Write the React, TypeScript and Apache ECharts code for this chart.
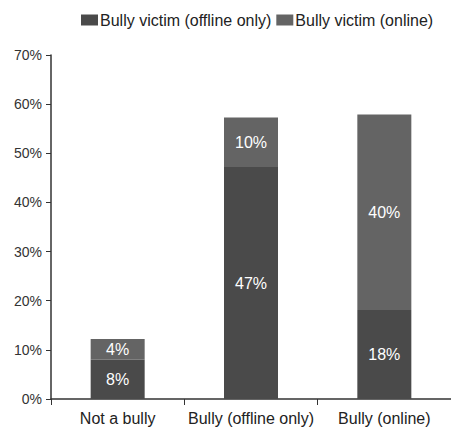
import React, { useEffect, useRef } from "react";
import * as echarts from "echarts";

const categories = ["Not a bully", "Bully (offline only)", "Bully (online)"];
const offlineVictim = [8.0, 47.2, 18.1];
const onlineVictim = [4.2, 10.1, 39.8];
const seriesNames = ["Bully victim (offline only)", "Bully victim (online)"];

export default function App() {
  const ref = useRef<HTMLDivElement>(null);
  useEffect(() => {
    if (!ref.current) return;
    const chart = echarts.init(ref.current, undefined, { renderer: "svg" });
    const font = "Liberation Sans";
    const label = {
      show: true,
      position: "inside",
      color: "#ffffff",
      fontFamily: font,
      fontSize: 16,
      formatter: (p: any) => Math.round(p.value) + "%",
    };
    chart.setOption({
      animation: false,
      textStyle: { fontFamily: font },
      legend: {
        top: 7,
        left: 76,
        itemWidth: 17,
        itemHeight: 11,
        itemGap: 5,
        icon: "rect",
        textStyle: { fontSize: 16, color: "#222", fontFamily: font, padding: [0, 0, 0, -3] },
        data: seriesNames,
      },
      grid: { left: 51, right: -9, top: 55, bottom: 36 },
      xAxis: {
        type: "category",
        data: categories,
        axisLine: { lineStyle: { color: "#333", width: 1.5 } },
        axisTick: { show: true, alignWithLabel: false, length: 6, lineStyle: { color: "#333" } },
        axisLabel: { color: "#222", fontSize: 16, margin: 11, fontFamily: font, interval: 0 },
      },
      yAxis: {
        type: "value",
        min: 0,
        max: 70,
        interval: 10,
        splitLine: { show: false },
        axisLine: { show: true, lineStyle: { color: "#333", width: 1.5 } },
        axisTick: { show: true, length: 5, lineStyle: { color: "#333" } },
        axisLabel: { color: "#333", fontSize: 14, margin: 9, formatter: "{value}%", fontFamily: font },
      },
      series: [
        {
          name: seriesNames[0],
          type: "bar",
          stack: "a",
          barWidth: 54,
          data: offlineVictim,
          itemStyle: { color: "#4a4a4a" },
          label,
        },
        {
          name: seriesNames[1],
          type: "bar",
          stack: "a",
          barWidth: 54,
          data: onlineVictim,
          itemStyle: { color: "#646464" },
          label,
        },
      ],
    });
    return () => chart.dispose();
  }, []);
  return <div ref={ref} style={{ width: 451, height: 435, position: "absolute", left: 0, top: 0 }} />;
}
